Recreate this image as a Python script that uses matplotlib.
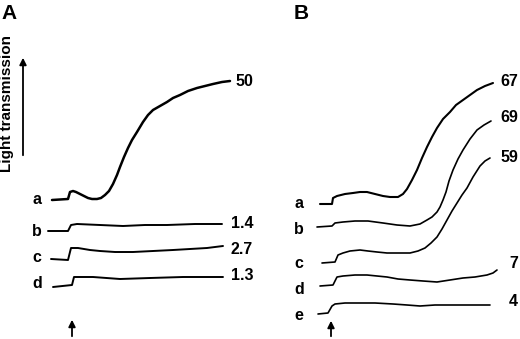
import matplotlib
matplotlib.use("Agg")
import matplotlib.pyplot as plt

plt.rcParams['font.family'] = ['Liberation Sans', 'DejaVu Sans']

# traces: (time position, level) in image pixel units
# panel A
a_x = [52, 68, 70, 73, 76, 80, 84, 88, 92, 97, 101, 105, 109, 113, 117, 120, 124, 128, 132, 137,
       143, 148, 153, 160, 167, 173, 180, 188, 197, 205, 213, 222, 230]
a_y = [200, 199, 192, 191, 192, 194, 196, 198, 199, 199, 198, 195, 191, 184, 175, 167, 157, 148, 140, 132,
       122, 115, 110, 106, 102, 98, 95, 91, 88, 86, 84, 82, 81]
b_x = [48, 68, 71, 77, 100, 123, 145, 167, 195, 222]
b_y = [231, 231, 225, 224, 225, 226, 225, 225, 224, 224]
c_x = [51, 68, 71, 78, 90, 100, 115, 133, 153, 173, 190, 207, 223]
c_y = [259, 260, 248, 248, 250, 251, 252, 252, 251, 250, 249, 248, 246]
d_x = [53, 72, 74, 93, 120, 150, 183, 223]
d_y = [287, 285, 277, 277, 279, 278, 277, 277]

# panel B
ba_x = [320, 332, 333, 337, 345, 353, 360, 367, 375, 383, 390, 398, 403, 407, 412, 417, 422, 427,
        432, 437, 443, 450, 456, 463, 470, 477, 485, 493]
ba_y = [204, 204, 198, 196, 194, 193, 192, 192, 194, 196, 197, 197, 194, 189, 180, 170, 158, 147,
        137, 128, 119, 112, 105, 100, 95, 90, 86, 83]
bb_x = [317, 332, 335, 343, 355, 368, 383, 397, 410, 420, 427, 432, 437, 440, 443, 446, 449,
        453, 458, 463, 470, 477, 484, 491]
bb_y = [227, 226, 223, 222, 221, 221, 223, 225, 226, 224, 220, 217, 212, 207, 200, 192, 181,
        170, 159, 150, 139, 130, 125, 121]
bc_x = [322, 335, 338, 343, 350, 360, 368, 377, 387, 397, 410, 418, 425, 431, 437, 442, 447,
        452, 457, 462, 467, 473, 480, 485, 490]
bc_y = [263, 262, 255, 253, 251, 250, 251, 252, 253, 253, 253, 251, 248, 243, 237, 229, 220,
        211, 203, 195, 188, 177, 166, 161, 158]
bd_x = [320, 333, 337, 343, 355, 367, 377, 387, 398, 410, 423, 437, 450, 463, 475, 487, 493, 497]
bd_y = [286, 285, 277, 276, 275, 275, 276, 277, 279, 280, 281, 282, 280, 278, 277, 275, 273, 270]
be_x = [318, 328, 332, 335, 345, 360, 375, 393, 407, 420, 435, 450, 470, 490]
be_y = [314, 313, 306, 304, 303, 303, 303, 304, 305, 306, 305, 305, 305, 305]

panel_a = [(a_x, a_y), (b_x, b_y), (c_x, c_y), (d_x, d_y)]
panel_b = [(ba_x, ba_y), (bb_x, bb_y), (bc_x, bc_y), (bd_x, bd_y), (be_x, be_y)]

# trace letters and aggregation values
a_letters = ['a', 'b', 'c', 'd']
a_letter_y = [200, 231, 257, 284]
a_values = ['50', '1.4', '2.7', '1.3']
a_value_y = [81, 223, 249, 276]

b_letters = ['a', 'b', 'c', 'd', 'e']
b_letter_y = [203, 229, 264, 289, 316]
b_values = ['67', '69', '59', '7', '4']
b_value_y = [81, 117, 157, 264, 301]

fig = plt.figure(figsize=(5.2, 3.39), dpi=100)
ax = fig.add_axes([0, 0, 1, 1])
ax.set_xlim(0, 520)
ax.set_ylim(339, 0)
ax.axis('off')

for i, (xs, ys) in enumerate(panel_a):
    ax.plot(xs, ys, color='black', lw=1.8 if i == 0 else 1.4,
            solid_capstyle='round', solid_joinstyle='round')
for i, (xs, ys) in enumerate(panel_b):
    ax.plot(xs, ys, color='black', lw=1.5 if i == 0 else 1.2,
            solid_capstyle='round', solid_joinstyle='round')

for lab, y in zip(a_letters, a_letter_y):
    ax.text(37, y, lab, ha='center', va='center', fontsize=11.5, weight='bold')
for val, y in zip(a_values, a_value_y):
    ax.text(253, y, val, ha='right', va='center', fontsize=11.5, weight='bold')
for lab, y in zip(b_letters, b_letter_y):
    ax.text(299, y, lab, ha='center', va='center', fontsize=11.5, weight='bold')
for val, y in zip(b_values, b_value_y):
    ax.text(518, y, val, ha='right', va='center', fontsize=11.5, weight='bold')

# panel letters
ax.text(1, 19, 'A', ha='left', va='baseline', fontsize=15, weight='bold')
ax.text(294, 19, 'B', ha='left', va='baseline', fontsize=15, weight='bold')

# y-axis label and arrow
ax.text(7, 104, 'Light transmission', rotation=90, ha='center', va='center', fontsize=11, weight='bold')
ax.annotate('', xy=(23, 55), xytext=(23, 158),
            arrowprops=dict(arrowstyle='-|>', color='black', lw=1.3, mutation_scale=10))

# addition arrows
ax.annotate('', xy=(72, 317), xytext=(72, 339),
            arrowprops=dict(arrowstyle='-|>', color='black', lw=1.3, mutation_scale=10))
ax.annotate('', xy=(331, 318), xytext=(331, 339),
            arrowprops=dict(arrowstyle='-|>', color='black', lw=1.3, mutation_scale=10))

fig.savefig('out.png', dpi=100)
